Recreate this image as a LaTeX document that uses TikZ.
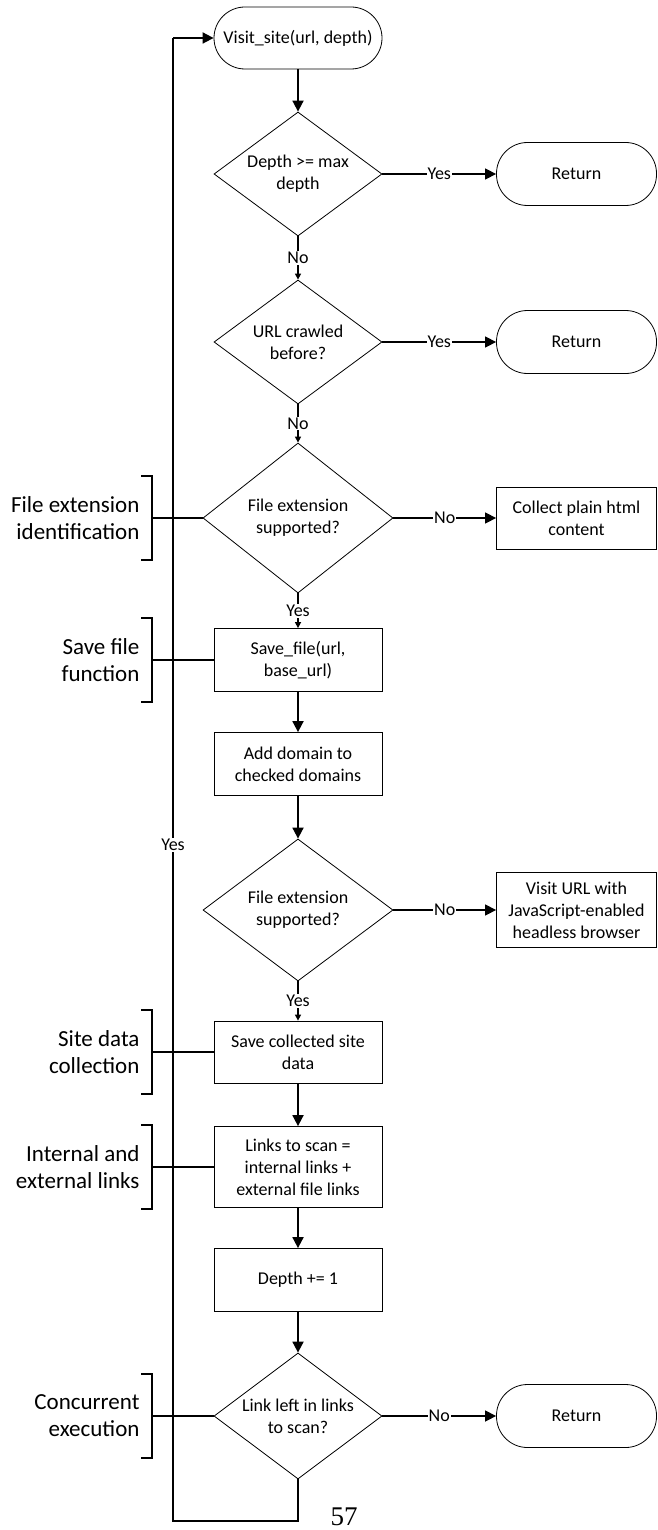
\documentclass[tikz,border=0pt]{standalone}
\usepackage{fontspec}
\setmainfont{Carlito}
\newfontfamily\pagefont{Liberation Serif}
\usetikzlibrary{shapes.geometric,arrows.meta,calc}

\tikzset{
  basefont/.style={font=\fontsize{18}{22}\selectfont},
  terminal/.style={basefont, draw, line width=0.8pt, rounded corners=31pt,
    minimum width=160pt, minimum height=63pt, align=center, inner sep=2pt},
  process/.style={basefont, draw, line width=0.8pt, minimum width=168pt,
    minimum height=63pt, align=center, inner sep=2pt},
  decision/.style={basefont, draw, line width=0.8pt, shape=diamond, aspect=1.35,
    inner sep=0pt, align=center},
  flow/.style={line width=1.8pt, -{Triangle[length=11pt,width=11pt]}},
  branch/.style={line width=1.4pt, -{Triangle[length=11pt,width=11pt]}},
  down/.style={line width=1.4pt, -{Triangle[length=6pt,width=6pt]}},
  edgelabel/.style={basefont, fill=white, inner sep=1pt},
  bracket/.style={line width=1.8pt},
  tie/.style={line width=1.4pt},
  notelabel/.style={font=\fontsize{23}{27}\selectfont, align=right, anchor=east},
}

\begin{document}
\begin{tikzpicture}[x=1pt,y=-1pt]
\useasboundingbox (0,0) rectangle (658,1530);

% main column
\node[terminal, minimum width=168pt, minimum height=62pt] (visit) at (298,38) {Visit\_site(url, depth)};
\node[decision, minimum width=168pt, minimum height=124pt] (maxd) at (298,174) {Depth >= max\\depth};
\node[decision, minimum width=168pt, minimum height=124pt] (crawled) at (298,342) {URL crawled\\before?};
\node[decision, minimum width=190pt, minimum height=150pt] (ext1) at (298,518) {File extension\\supported?};
\node[process] (savefile) at (298,660) {Save\_file(url,\\base\_url)};
\node[process] (domain) at (298,764) {Add domain to\\checked domains};
\node[decision, minimum width=190pt, minimum height=142pt] (ext2) at (298,910) {File extension\\supported?};
\node[process, minimum height=62pt] (sitedata) at (298,1052) {Save collected site\\data};
\node[process, minimum height=81pt] (links) at (298,1167) {Links to scan =\\internal links +\\external file links};
\node[process] (depth) at (298,1280) {Depth += 1};
\node[decision, minimum width=168pt, minimum height=126pt] (left) at (298,1416) {Link left in links\\to scan?};

% right column
\node[terminal] (ret1) at (576.5,174) {Return};
\node[terminal] (ret2) at (576.5,342) {Return};
\node[process, minimum width=160pt, minimum height=62pt] (plain) at (576.5,518) {Collect plain html\\content};
\node[process, minimum width=160pt, minimum height=75pt] (headless) at (576.5,910) {Visit URL with\\JavaScript-enabled\\headless browser};
\node[terminal] (ret3) at (576.5,1416) {Return};

% vertical flow
\draw[flow] (visit) -- (maxd);
\draw[down] (maxd.south) -- node[edgelabel]{No} (crawled.north);
\draw[down] (crawled.south) -- node[edgelabel]{No} (ext1.north);
\draw[down] (ext1.south) -- node[edgelabel]{Yes} (savefile.north);
\draw[flow] (savefile) -- (domain);
\draw[flow] (domain) -- (ext2.north);
\draw[down] (ext2.south) -- node[edgelabel]{Yes} (sitedata.north);
\draw[flow] (sitedata) -- (links);
\draw[flow] (links) -- (depth);
\draw[flow] (depth) -- (left.north);

% branches to the right
\draw[branch] (maxd.east) -- node[edgelabel]{Yes} (ret1.west);
\draw[branch] (crawled.east) -- node[edgelabel]{Yes} (ret2.west);
\draw[branch] (ext1.east) -- node[edgelabel]{No} (plain.west);
\draw[branch] (ext2.east) -- node[edgelabel]{No} (headless.west);
\draw[branch] (left.east) -- node[edgelabel]{No} (ret3.west);

% loop back to the start
\coordinate (loopbottom) at (173,1521);
\coordinate (looptop) at (173,38);
\draw[line width=1.8pt] (left.south) |- (loopbottom)
  -- node[edgelabel, pos=0.456]{Yes} (looptop);
\draw[flow] (looptop) -- (visit.west);

% annotations
\coordinate (b1) at (152,518);
\coordinate (b2) at (152,660);
\coordinate (b3) at (152,1052);
\coordinate (b4) at (152,1167);
\coordinate (b5) at (152,1416);
\foreach \b in {b1,b2,b3,b4,b5}{
  \draw[bracket] ($(\b)+(-11,-42)$) -- ($(\b)+(0,-42)$) -- ($(\b)+(0,42)$) -- ($(\b)+(-11,42)$);
}
\draw[tie] (b1) -- (ext1.west);
\draw[tie] (b2) -- (savefile.west);
\draw[tie] (b3) -- (sitedata.west);
\draw[tie] (b4) -- (links.west);
\draw[tie] (b5) -- (left.west);

\node[notelabel] (n1) at (143,518) {File extension\\identification};
\node[notelabel] (n2) at (143,660) {Save file\\function};
\node[notelabel] (n3) at (143,1052) {Site data\\collection};
\node[notelabel] (n4) at (143,1167) {Internal and\\external links};
\node[notelabel] (n5) at (143,1416) {Concurrent\\execution};

\node[font=\pagefont\fontsize{27}{30}\selectfont, anchor=base, inner sep=0pt] (page) at (344,1525) {57};
\end{tikzpicture}
\end{document}
